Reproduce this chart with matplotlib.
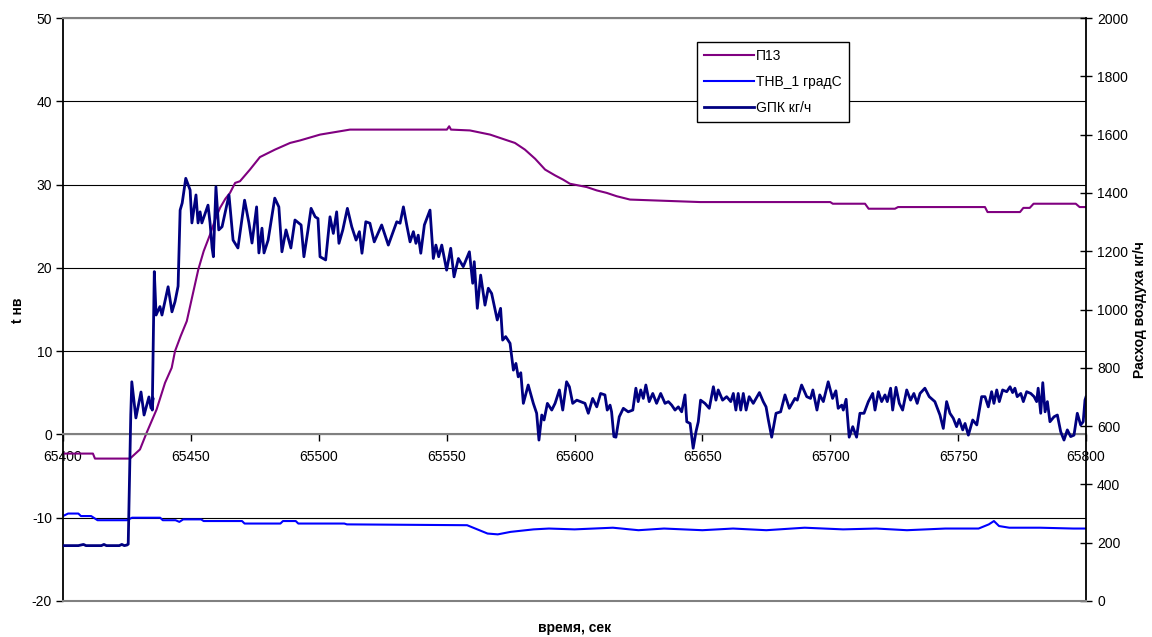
import numpy as np
import matplotlib
matplotlib.use('Agg')
import matplotlib.pyplot as plt

plt.rcParams['font.family'] = ['Liberation Sans', 'DejaVu Sans']
plt.rcParams['axes.unicode_minus'] = False

t0 = 65400

# П13, t нв (left axis)
t_p13 = [0, 11.7, 12.5, 26.2, 30.1, 32.7, 36.6, 39.9, 42.5, 43.8, 46.0, 48.4, 50.5,
         52.9, 55.0, 57.5, 59.5, 61.4, 63.5, 65.3, 67.3, 69.2, 73.1, 77.0, 82.9,
         88.8, 92.7, 100.5, 112.2, 150.1, 151.0, 151.7, 159.1, 167.0, 172.8, 176.7,
         180.6, 184.6, 188.5, 192.4, 195.5, 198.2, 204.8, 208.7, 212.6, 216.5, 221.7,
         249.1, 300.0, 301.0, 313.6, 315.0, 325.3, 326.5, 360.5, 361.5, 374.2, 375.5,
         378.0, 379.5, 396.0, 397.5, 400.0]
p13 = [-2.3, -2.3, -2.9, -2.9, -1.8, 0.2, 3.0, 6.2, 8.0, 10.0, 11.8, 13.6, 16.5,
       19.8, 22.0, 24.0, 25.8, 27.2, 28.3, 29.0, 30.2, 30.4, 31.8, 33.3, 34.2,
       35.0, 35.3, 36.0, 36.6, 36.6, 37.0, 36.6, 36.5, 36.0, 35.4, 35.0,
       34.2, 33.1, 31.8, 31.1, 30.6, 30.1, 29.7, 29.3, 29.0, 28.6, 28.2,
       27.9, 27.9, 27.7, 27.7, 27.1, 27.1, 27.3, 27.3, 26.7, 26.7, 27.2,
       27.2, 27.7, 27.7, 27.3, 27.3]

# ТНВ_1 градС (left axis)
t_thv = [0, 2, 6, 7, 11, 12.5, 13.5, 25, 27, 38, 39, 44, 45.5, 47, 54, 55, 70, 71,
         85, 86, 91, 92, 110, 111, 158, 162, 166, 170, 175, 178, 184, 190, 200,
         215, 225, 235, 250, 262, 275, 290, 305, 318, 330, 345, 358, 362, 364, 366,
         370, 382, 395, 400]
thv = [-9.8, -9.5, -9.5, -9.8, -9.8, -10.1, -10.3, -10.3, -10.0, -10.0, -10.3, -10.3,
       -10.5, -10.2, -10.2, -10.4, -10.4, -10.7, -10.7, -10.4, -10.4, -10.7, -10.7,
       -10.8, -10.9, -11.4, -11.9, -12.0, -11.7, -11.6, -11.4, -11.3, -11.4,
       -11.2, -11.5, -11.3, -11.5, -11.3, -11.5, -11.2, -11.4, -11.3, -11.5, -11.3,
       -11.3, -10.8, -10.4, -11.0, -11.2, -11.2, -11.3, -11.3]

# GПК кг/ч (right axis)
t_gpk = [0, 6, 8, 9, 15, 16, 17, 22, 23, 24, 25, 25.5, 26.5, 26.9, 28.5, 30.5, 31.7,
         33.6, 34.4, 35.2, 34.9, 35.7, 36.4, 37.9, 38.7, 41.1, 42.6, 43.8, 45.0,
         45.8, 46.6, 48.0, 49.7, 50.4, 52.0, 52.8, 53.6, 54.3, 56.7, 57.5, 58.3,
         58.8, 59.8, 60.9, 62.2, 64.9, 66.5, 68.4, 71.0, 72.7, 73.9, 75.7, 76.6,
         77.8, 78.6, 80.2, 82.8, 84.4, 85.6, 87.2, 89.1, 90.7, 93.1, 94.2, 95.8,
         97.0, 98.6, 99.7, 100.5, 102.7, 104.4, 105.7, 107.0, 107.9, 109.4, 111.2,
         112.9, 114.6, 115.9, 116.9, 118.4, 120.0, 121.7, 124.6, 127.2, 130.5,
         131.8, 133.1, 134.4, 135.7, 137.0, 138.0, 138.9, 139.9, 141.3, 143.5,
         144.8, 145.8, 146.9, 148.1, 150.0, 151.6, 152.9, 154.6, 156.5, 158.9,
         160.2, 160.8, 162.0, 163.3, 165.0, 166.3, 167.6, 169.8, 171.1, 171.9,
         173.1, 174.8, 176.1, 177.1, 178.0, 179.0, 180.0, 181.9, 183.9, 185.2,
         186.1, 187.2, 188.1, 189.4, 191.1, 192.4, 194.1, 195.4, 196.9, 198.0,
         199.3, 200.9, 202.4, 204.1, 205.4, 207.1, 208.7, 210.2, 211.9, 212.8,
         213.9, 214.5, 215.4, 216.2, 217.5, 219.1, 221.0, 222.8, 224.0, 224.9,
         225.9, 226.9, 227.9, 229.2, 230.6, 232.1, 233.7, 235.4, 236.7, 238.0,
         239.3, 240.6, 241.9, 243.2, 243.9, 245.2, 246.4, 247.5, 248.4, 249.3,
         251.0, 252.7, 254.3, 255.3, 256.2, 257.9, 259.5, 261.1, 262.1, 263.1,
         264.0, 265.0, 266.0, 267.1, 268.3, 269.9, 272.3, 273.8, 274.9, 275.8,
         277.1, 278.8, 280.6, 282.3, 284.0, 286.2, 287.1, 288.8, 290.8, 292.3,
         293.2, 294.8, 295.9, 297.3, 299.2, 300.9, 302.2, 303.1, 304.5, 305.1,
         306.2, 307.4, 308.8, 310.3, 311.6, 313.2, 314.9, 316.6, 317.5, 318.8,
         320.1, 321.4, 322.3, 323.6, 324.4, 325.7, 327.0, 328.3, 329.9, 331.4,
         332.7, 334.0, 335.1, 337.0, 338.7, 340.9, 342.9, 344.2, 345.5, 346.8,
         348.1, 349.4, 350.4, 351.8, 352.7, 354.0, 355.7, 357.3, 359.2, 360.5,
         361.8, 363.1, 364.0, 365.1, 366.1, 367.4, 369.0, 370.3, 371.3, 372.2,
         373.1, 374.5, 375.5, 376.8, 378.4, 379.7, 380.7, 381.3, 382.3, 383.1,
         384.0, 384.9, 385.9, 387.5, 388.8, 390.1, 391.4, 392.7, 394.0, 395.3,
         396.6, 397.9, 398.9, 399.6, 400.0]
gpk = [190, 190, 194, 190, 190, 194, 190, 190, 194, 190, 192, 195, 640, 752, 628, 717,
       638, 700, 662, 696, 655, 1130, 981, 1010, 981, 1078, 992, 1027, 1080,
       1341, 1365, 1450, 1410, 1297, 1393, 1297, 1335, 1297, 1358, 1297, 1211,
       1181, 1421, 1273, 1284, 1393, 1238, 1211, 1375, 1297, 1228, 1352, 1194,
       1279, 1194, 1238, 1382, 1352, 1198, 1273, 1211, 1307, 1290, 1181, 1273,
       1347, 1318, 1312, 1181, 1170, 1318, 1261, 1335, 1227, 1273, 1347,
       1284, 1238, 1267, 1193, 1301, 1296, 1232, 1290, 1221, 1301,
       1296, 1352, 1290, 1232, 1267, 1227, 1255, 1193, 1290, 1341,
       1175, 1221, 1181, 1221, 1135, 1210, 1112, 1175, 1147, 1198,
       1090, 1164, 1004, 1118, 1015, 1073, 1055, 964, 1004, 895,
       907, 884, 792, 815, 769, 783, 678, 741, 678, 644,
       552, 638, 621, 678, 655, 678, 724, 655, 752, 735,
       678, 689, 684, 678, 644, 695, 666, 712, 707, 655,
       672, 649, 564, 562, 632, 661, 649, 655, 730, 684,
       724, 695, 741, 684, 712, 678, 712, 678, 684, 672,
       655, 666, 649, 707, 615, 609, 524, 581, 615, 689,
       678, 661, 735, 689, 724, 689, 701, 684, 712, 655,
       712, 655, 712, 655, 701, 678, 715, 684, 666, 621,
       562, 644, 649, 707, 661, 695, 689, 741, 701, 695,
       724, 655, 707, 684, 752, 695, 721, 661, 672, 655,
       692, 562, 598, 562, 644, 644, 684, 712, 655, 718,
       684, 707, 684, 730, 655, 733, 678, 655, 724, 689,
       712, 678, 712, 730, 701, 684, 638, 592, 684, 644,
       627, 598, 623, 587, 609, 569, 621, 604, 701, 701,
       666, 718, 678, 724, 684, 724, 718, 735, 715, 730,
       701, 712, 684, 718, 712, 701, 684, 730, 644, 749,
       649, 684, 615, 632, 638, 581, 552, 587, 564, 569,
       644, 604, 615, 689, 700]

x_ticks = np.arange(65400, 65801, 50)
left_ticks = np.arange(-20, 51, 10)
right_ticks = np.arange(0, 2001, 200)

t_p13 = t0 + np.array(t_p13)
t_thv = t0 + np.array(t_thv)
t_gpk = t0 + np.array(t_gpk)

fig = plt.figure(figsize=(11.52, 6.37), dpi=100)
ax = fig.add_axes([63/1152, 1 - 601/637, (1086 - 63)/1152, (601 - 18)/637])
ax2 = ax.twinx()

l1, = ax.plot(t_p13, p13, color='#800080', lw=1.5, label='П13')
l2, = ax.plot(t_thv, thv, color='#0000FF', lw=1.5, label='ТНВ_1 градС')
l3, = ax2.plot(t_gpk, gpk, color='#000080', lw=2.0, label='GПК кг/ч')

ax.set_xlim(65400, 65800)
ax.set_ylim(-20, 50)
ax2.set_ylim(0, 2000)
ax.set_xticks(x_ticks)
ax.set_yticks(left_ticks)
ax2.set_yticks(right_ticks)

ax.yaxis.grid(True, color='black', lw=0.8)
ax.set_axisbelow(True)

# x axis runs through zero of the left scale
ax.spines['bottom'].set_position(('data', 0))
ax.spines['bottom'].set_color('#808080')
ax.spines['bottom'].set_linewidth(1.5)
ax.spines['top'].set_color('#808080')
ax.spines['top'].set_linewidth(1.5)
ax.spines['right'].set_visible(False)
ax.spines['left'].set_color('black')
ax.spines['left'].set_linewidth(1.3)

ax2.spines['left'].set_visible(False)
ax2.spines['top'].set_visible(False)
ax2.spines['bottom'].set_color('#808080')
ax2.spines['bottom'].set_linewidth(1.5)
ax2.spines['right'].set_color('black')
ax2.spines['right'].set_linewidth(1.3)

ax.tick_params(axis='x', direction='out', length=5, width=1, color='black',
               labelsize=10, pad=6)
ax.tick_params(axis='y', direction='out', length=5, width=1, labelsize=10, pad=3)
ax2.tick_params(axis='y', direction='inout', length=8, width=1, labelsize=10, pad=4)

fig.text(18/1152, 1 - 310/637, 't нв', rotation=90, ha='center', va='center',
         fontsize=10, fontweight='bold')
fig.text(1140/1152, 1 - 310/637, 'Расход воздуха кг/ч', rotation=90, ha='center',
         va='center', fontsize=10, fontweight='bold')
fig.text(575/1152, 1 - 628/637, 'время, сек', ha='center', va='center',
         fontsize=10, fontweight='bold')

leg = ax2.legend(handles=[l1, l2, l3], loc='upper left',
                 bbox_to_anchor=(697/1152, 1 - 42/637), bbox_transform=fig.transFigure,
                 fancybox=False, edgecolor='black', framealpha=1, fontsize=10,
                 handlelength=3.6, handletextpad=0.15, labelspacing=0.85,
                 borderpad=0.5, borderaxespad=0)
leg.get_frame().set_linewidth(1.0)

fig.savefig('out.png', dpi=100)
